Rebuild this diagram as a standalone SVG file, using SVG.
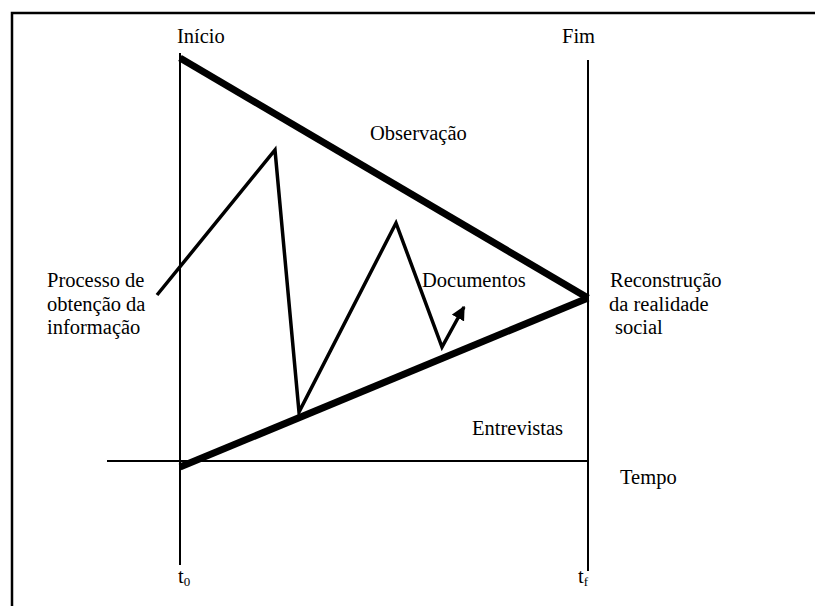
<svg xmlns="http://www.w3.org/2000/svg" width="815" height="606" viewBox="0 0 815 606">
<defs>
<style>
.t{font-family:"Liberation Serif","Times New Roman",serif;font-size:20.5px;fill:#000}
.thin{stroke:#000;stroke-width:2;fill:none}
.thick{stroke:#000;stroke-width:7;fill:none}
.zig{stroke:#000;stroke-width:3.5;fill:none;stroke-linejoin:miter}
</style>
<marker id="ah" viewBox="0 0 10 10" refX="9" refY="5" markerWidth="4" markerHeight="4" orient="auto" markerUnits="strokeWidth">
<path d="M0,0 L10,5 L0,10 z" fill="#000"/>
</marker>
</defs>
<rect width="815" height="606" fill="#fff"/>
<g id="frame">
<path class="thin" d="M12,606 V13 H815" style="stroke-width:2.5"/>
</g>
<g id="connectors">
<line class="thin" x1="180" y1="53" x2="180" y2="565"/>
<line class="thin" x1="588" y1="60" x2="588" y2="571"/>
<line class="thin" x1="107" y1="461" x2="588" y2="461"/>
<line class="thick" x1="180" y1="58" x2="588" y2="298"/>
<line class="thick" x1="180" y1="467" x2="588" y2="298"/>
<polyline class="zig" points="157,295 275,150 299,412 396,223 442,347 464,307" marker-end="url(#ah)"/>
</g>
<g id="inicio"><text class="t" x="177" y="43">Início</text></g>
<g id="fim"><text class="t" x="562" y="43">Fim</text></g>
<g id="observacao"><text class="t" x="370" y="140">Observação</text></g>
<g id="processo"><text class="t" x="47" y="287">Processo de</text><text class="t" x="47" y="311">obtenção da</text><text class="t" x="47" y="334">informação</text></g>
<g id="documentos"><text class="t" x="422" y="287">Documentos</text></g>
<g id="reconstrucao"><text class="t" x="610" y="287">Reconstrução</text><text class="t" x="609" y="311">da realidade</text><text class="t" x="615" y="334">social</text></g>
<g id="entrevistas"><text class="t" x="472" y="435">Entrevistas</text></g>
<g id="tempo"><text class="t" x="620" y="484">Tempo</text></g>
<g id="t0"><text class="t" x="178" y="583">t<tspan font-size="13" dy="3">0</tspan></text></g>
<g id="tf"><text class="t" x="578" y="583">t<tspan font-size="13" dy="3">f</tspan></text></g>
</svg>
